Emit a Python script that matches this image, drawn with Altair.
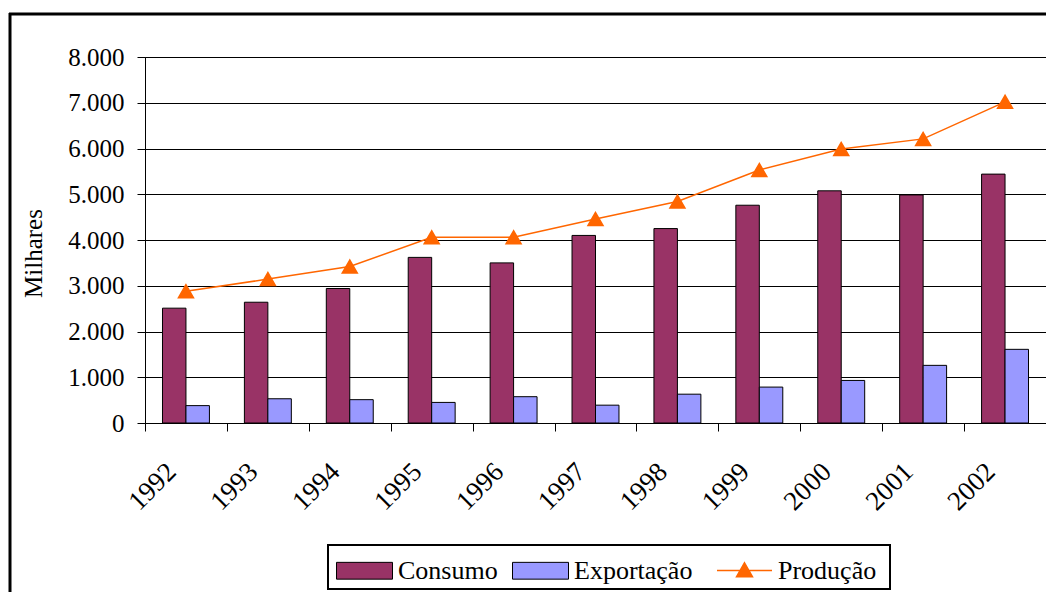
import altair as alt
import pandas as pd

years = ["1992", "1993", "1994", "1995", "1996", "1997", "1998", "1999", "2000", "2001", "2002"]
consumo = [2510, 2640, 2940, 3620, 3500, 4100, 4250, 4760, 5075, 4985, 5440]
exportacao = [380, 530, 510, 450, 575, 390, 630, 785, 930, 1260, 1610]
producao = [2880, 3145, 3420, 4060, 4060, 4460, 4840, 5530, 5990, 6210, 7020]
bar_series = ["Consumo", "Exportação"]
line_series = ["Produção"]
y_ticks = [0, 1000, 2000, 3000, 4000, 5000, 6000, 7000, 8000]

FONT = "Liberation Serif"

bars_df = pd.DataFrame(
    [{"year": y, "series": "Consumo", "value": v} for y, v in zip(years, consumo)]
    + [{"year": y, "series": "Exportação", "value": v} for y, v in zip(years, exportacao)]
)
line_df = pd.DataFrame({"year": years, "value": producao, "series": line_series * len(years)})

x_enc = alt.X(
    "year:N",
    sort=years,
    scale=alt.Scale(paddingInner=0, paddingOuter=0),
    axis=alt.Axis(
        title=None, labelAngle=-45, labelAlign="right", labelBaseline="alphabetic",
        labelPadding=42, labelOffset=-9, tickBand="extent", tickSize=8,
        tickColor="#000", domainColor="#000", labelColor="#000",
        labelFont=FONT, labelFontSize=27, grid=False,
    ),
)
y_enc = alt.Y(
    "value:Q",
    scale=alt.Scale(domain=[0, 8000], nice=False),
    axis=alt.Axis(
        values=y_ticks, title="Milhares", tickSize=8, labelPadding=13,
        labelExpr="replace(format(datum.value, ','), ',', '.')",
        labelFont=FONT, labelFontSize=25, labelColor="#000",
        titleFont=FONT, titleFontSize=25, titleFontWeight="normal", titleColor="#000",
        titleX=-104, titleY=196, titleAlign="center", titleBaseline="alphabetic",
        grid=True, gridColor="#000", gridWidth=1, tickColor="#000", domainColor="#000",
    ),
)

bars = alt.Chart(bars_df).mark_bar(stroke="#000", strokeWidth=1).encode(
    x=x_enc,
    xOffset=alt.XOffset("series:N", sort=bar_series,
                        scale=alt.Scale(domain=bar_series, paddingInner=0, paddingOuter=0.745)),
    y=y_enc,
    fill=alt.Fill(
        "series:N",
        scale=alt.Scale(domain=bar_series, range=["#993366", "#9999FF"]),
        legend=alt.Legend(
            title=None, orient="none", legendX=191, legendY=485, direction="horizontal",
            symbolType="M-1,-0.3H1V0.3H-1Z", symbolSize=3136,
            symbolStrokeColor="#000", symbolStrokeWidth=1,
            labelFont=FONT, labelFontSize=26, labelColor="#000",
            labelOffset=5, columnPadding=12, padding=0,
        ),
    ),
)

line = alt.Chart(line_df).mark_line(color="#FF6600", strokeWidth=1.5).encode(
    x=alt.X("year:N", sort=years),
    y=alt.Y("value:Q"),
)

points = alt.Chart(line_df).mark_point(
    filled=True, shape="triangle-up", size=225, opacity=1,
    stroke="#FF6600", strokeWidth=1.5,
).encode(
    x=alt.X("year:N", sort=years),
    y=alt.Y("value:Q"),
    color=alt.Color(
        "series:N",
        scale=alt.Scale(domain=line_series, range=["#FF6600"]),
        legend=alt.Legend(
            title=None, orient="none", legendX=571, legendY=485,
            symbolType="M-1,0H1M0,-0.28L0.29,0.23L-0.29,0.23Z", symbolSize=3025,
            symbolStrokeWidth=1.5,
            labelFont=FONT, labelFontSize=26, labelColor="#000",
            labelOffset=5, padding=0,
        ),
    ),
)

legend_box = alt.Chart(pd.DataFrame({"k": [0]})).mark_rect(
    fill="transparent", stroke="#000", strokeWidth=2
).encode(
    x=alt.value(183), x2=alt.value(745), y=alt.value(488), y2=alt.value(532)
)

frame_left = alt.Chart(pd.DataFrame({"k": [0]})).mark_rule(color="#000", strokeWidth=3).encode(
    x=alt.value(-135), y=alt.value(-44), y2=alt.value(600)
)
frame_top = alt.Chart(pd.DataFrame({"k": [0]})).mark_rule(color="#000", strokeWidth=3).encode(
    x=alt.value(-136), x2=alt.value(1000), y=alt.value(-43)
)

chart = alt.layer(bars, line, points, legend_box, frame_left, frame_top).resolve_scale(
    x="shared", y="shared"
).properties(
    width=901, height=366,
    autosize=alt.AutoSizeParams(type="none"),
    padding={"left": 137, "top": 49, "right": 0, "bottom": 169},
    background="white",
).configure_view(
    stroke="#000", strokeWidth=1
)

chart.save("out.html", embed_options={"renderer": "svg", "actions": False})
